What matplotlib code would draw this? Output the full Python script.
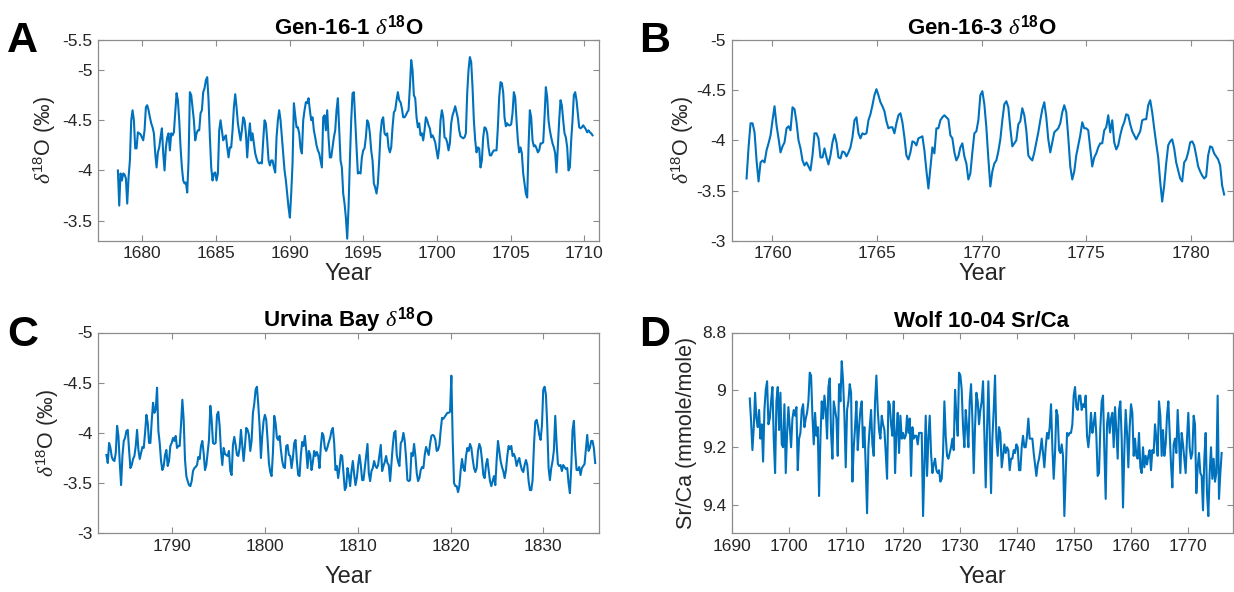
import numpy as np
import matplotlib
matplotlib.use("Agg")
import matplotlib.pyplot as plt

plt.rcParams['font.family'] = ['Liberation Sans', 'DejaVu Sans']
plt.rcParams['mathtext.fontset'] = 'custom'
plt.rcParams['mathtext.rm'] = 'Liberation Sans'
plt.rcParams['mathtext.it'] = 'Liberation Serif:italic'
plt.rcParams['mathtext.bf'] = 'Liberation Sans:bold'

gen161_start, gen161_end = 1678.35, 1710.56
gen161_d18o = [
    -4.0, -3.65, -3.97, -3.9, -3.97, -3.96, -3.92, -3.67, -3.93, -4.1, -4.5, -4.6, -4.5, -4.22, -4.22, -4.38,
    -4.37, -4.36, -4.33, -4.3, -4.4, -4.63, -4.65, -4.6, -4.53, -4.47, -4.43, -4.37, -4.17, -4.03, -4.18, -4.23,
    -4.33, -4.42, -4.17, -4.0, -4.23, -4.33, -4.37, -4.2, -4.37, -4.35, -4.38, -4.57, -4.77, -4.7, -4.5, -4.23,
    -4.03, -3.9, -3.87, -3.88, -3.78, -4.1, -4.78, -4.75, -4.63, -4.5, -4.3, -4.37, -4.4, -4.4, -4.57, -4.6,
    -4.78, -4.82, -4.9, -4.93, -4.7, -4.33, -4.03, -3.9, -3.97, -3.98, -3.9, -3.97, -4.4, -4.5, -4.4, -4.3,
    -4.33, -4.35, -4.23, -4.13, -4.23, -4.23, -4.4, -4.63, -4.76, -4.63, -4.47, -4.38, -4.3, -4.4, -4.53, -4.5,
    -4.37, -4.13, -4.33, -4.47, -4.3, -4.37, -4.27, -4.17, -4.12, -4.08, -4.07, -4.08, -4.07, -4.3, -4.5, -4.47,
    -4.3, -4.1, -4.05, -4.1, -4.1, -4.03, -3.98, -4.33, -4.5, -4.6, -4.5, -4.33, -4.17, -4.0, -3.9, -3.77,
    -3.63, -3.53, -3.77, -4.07, -4.67, -4.55, -4.43, -4.43, -4.37, -4.22, -4.17, -4.5, -4.6, -4.68, -4.67, -4.72,
    -4.6, -4.5, -4.53, -4.4, -4.33, -4.25, -4.2, -4.17, -4.1, -4.03, -4.53, -4.55, -4.4, -4.6, -4.33, -4.13,
    -4.13, -4.23, -4.33, -4.4, -4.6, -4.72, -4.4, -4.1, -4.03, -3.77, -3.67, -3.53, -3.32, -3.63, -4.1, -4.5,
    -4.77, -4.78, -4.5, -4.23, -3.97, -3.98, -3.97, -4.13, -4.2, -4.22, -4.33, -4.5, -4.47, -4.37, -4.2, -4.1,
    -3.87, -3.83, -3.77, -3.87, -4.1, -4.37, -4.5, -4.53, -4.37, -4.35, -4.37, -4.23, -4.18, -4.23, -4.43, -4.58,
    -4.6, -4.7, -4.78, -4.7, -4.68, -4.62, -4.53, -4.53, -4.55, -4.58, -4.6, -4.83, -5.1, -5.0, -4.75, -4.72,
    -4.53, -4.43, -4.47, -4.35, -4.37, -4.3, -4.4, -4.53, -4.5, -4.45, -4.42, -4.33, -4.35, -4.32, -4.28, -4.2,
    -4.12, -4.23, -4.5, -4.6, -4.53, -4.33, -4.32, -4.28, -4.2, -4.27, -4.47, -4.55, -4.59, -4.64, -4.58, -4.52,
    -4.4, -4.34, -4.33, -4.32, -4.33, -4.37, -4.77, -5.0, -5.13, -5.08, -4.83, -4.5, -4.3, -4.18, -4.23, -4.22,
    -4.03, -4.1, -4.33, -4.43, -4.42, -4.37, -4.23, -4.15, -4.15, -4.18, -4.2, -4.2, -4.2, -4.43, -4.73, -4.88,
    -4.87, -4.78, -4.53, -4.44, -4.47, -4.45, -4.45, -4.46, -4.57, -4.78, -4.73, -4.5, -4.3, -4.18, -4.23, -4.17,
    -3.97, -3.87, -3.77, -3.73, -4.23, -4.6, -4.53, -4.3, -4.24, -4.25, -4.22, -4.18, -4.2, -4.27, -4.27, -4.28,
    -4.53, -4.83, -4.73, -4.5, -4.4, -4.33, -4.27, -4.23, -4.17, -3.98, -4.23, -4.5, -4.7, -4.65, -4.5, -4.37,
    -4.33, -4.23, -4.0, -4.03, -4.3, -4.5, -4.75, -4.78, -4.7, -4.57, -4.43, -4.42, -4.43, -4.45, -4.43, -4.41,
    -4.38, -4.4, -4.38, -4.37, -4.35,
]

gen163_start, gen163_end = 1758.76, 1781.6
gen163_d18o = [
    -3.62, -3.93, -4.17, -4.17, -4.08, -3.80, -3.59, -3.78, -3.80, -3.78, -3.90, -3.97, -4.05, -4.20, -4.34, -4.15,
    -4.02, -3.88, -3.94, -3.98, -4.12, -4.14, -4.10, -4.33, -4.31, -4.18, -4.00, -3.92, -3.80, -3.75, -3.78, -3.74,
    -3.70, -3.85, -4.07, -4.07, -4.02, -3.83, -3.83, -3.92, -3.83, -3.76, -3.85, -3.98, -4.06, -3.98, -3.83, -3.82,
    -3.89, -3.88, -3.84, -3.88, -3.93, -4.03, -4.20, -4.23, -4.07, -4.02, -4.07, -4.06, -4.07, -4.20, -4.26, -4.35,
    -4.45, -4.51, -4.45, -4.38, -4.34, -4.29, -4.19, -4.12, -4.13, -4.13, -4.07, -4.17, -4.25, -4.27, -4.18, -4.03,
    -3.85, -3.81, -3.88, -3.99, -3.98, -3.95, -4.02, -4.03, -4.04, -3.90, -3.70, -3.52, -3.72, -3.93, -3.87, -4.12,
    -4.12, -4.20, -4.23, -4.25, -4.23, -4.21, -4.05, -4.02, -3.88, -3.80, -3.84, -3.93, -3.97, -3.84, -3.77, -3.61,
    -3.67, -3.88, -4.07, -4.09, -4.20, -4.45, -4.49, -4.36, -4.13, -3.82, -3.54, -3.69, -3.77, -3.80, -3.89, -4.01,
    -4.20, -4.36, -4.39, -4.33, -4.12, -3.94, -3.97, -4.00, -4.16, -4.19, -4.32, -4.25, -4.10, -3.85, -3.82, -3.80,
    -3.88, -3.98, -4.08, -4.20, -4.31, -4.38, -4.23, -4.01, -3.88, -3.98, -4.08, -4.10, -4.12, -4.17, -4.28, -4.35,
    -4.28, -4.03, -3.74, -3.61, -3.69, -3.85, -3.95, -4.05, -4.18, -4.12, -4.12, -4.10, -3.92, -3.74, -3.83, -3.87,
    -3.93, -3.97, -3.97, -4.10, -4.13, -4.25, -4.08, -4.20, -3.98, -3.91, -3.95, -4.05, -4.13, -4.18, -4.26, -4.25,
    -4.16, -4.09, -4.05, -4.01, -4.05, -4.09, -4.20, -4.21, -4.21, -4.35, -4.40, -4.28, -4.12, -3.97, -3.83, -3.59,
    -3.39, -3.55, -3.77, -3.95, -3.99, -4.01, -3.92, -3.78, -3.70, -3.62, -3.59, -3.78, -3.81, -3.88, -3.98, -3.99,
    -3.95, -3.85, -3.74, -3.69, -3.65, -3.62, -3.64, -3.85, -3.94, -3.93, -3.87, -3.84, -3.81, -3.75, -3.55, -3.46,
]

urvina_start, urvina_end = 1782.91, 1835.59
urvina_d18o = [
    -3.78, -3.70, -3.90, -3.85, -3.76, -3.73, -3.72, -3.80, -4.07, -3.97, -3.70, -3.48, -3.77, -3.92, -3.95, -4.02,
    -4.03, -3.83, -3.65, -3.68, -3.74, -3.77, -3.87, -4.03, -3.83, -3.74, -3.80, -3.86, -3.85, -4.00, -4.18, -4.10,
    -3.90, -3.90, -4.12, -4.30, -4.20, -4.23, -4.45, -4.02, -3.90, -3.72, -3.63, -3.67, -3.78, -3.83, -3.67, -3.72,
    -3.87, -3.90, -3.95, -3.92, -3.97, -3.85, -3.87, -3.87, -4.08, -4.33, -4.13, -3.73, -3.57, -3.52, -3.48, -3.47,
    -3.52, -3.62, -3.65, -3.66, -3.68, -3.76, -3.74, -3.87, -3.92, -3.80, -3.63, -3.68, -3.80, -3.93, -4.27, -4.13,
    -3.90, -3.89, -3.90, -4.18, -4.21, -4.07, -3.82, -3.68, -3.85, -3.79, -3.78, -3.77, -3.82, -3.62, -3.58, -3.88,
    -3.96, -3.88, -3.78, -3.77, -3.85, -4.03, -3.88, -3.72, -3.87, -4.05, -4.03, -3.98, -3.82, -3.92, -4.20, -4.29,
    -4.43, -4.46, -4.28, -4.07, -3.75, -3.97, -4.12, -4.18, -4.13, -3.93, -3.70, -3.61, -3.57, -3.80, -4.17, -4.10,
    -3.95, -3.93, -3.97, -3.83, -3.72, -3.66, -3.65, -3.87, -3.88, -3.78, -3.77, -3.65, -3.75, -3.90, -3.93, -3.72,
    -3.58, -3.57, -3.78, -3.91, -3.87, -3.97, -3.83, -3.65, -3.82, -3.78, -3.63, -3.71, -3.82, -3.77, -3.81, -3.77,
    -3.65, -3.87, -4.00, -3.97, -3.85, -3.82, -3.86, -3.91, -3.95, -4.02, -4.05, -3.90, -3.63, -3.67, -3.55, -3.65,
    -3.78, -3.77, -3.60, -3.43, -3.46, -3.65, -3.58, -3.47, -3.62, -3.72, -3.59, -3.48, -3.55, -3.68, -3.78, -3.68,
    -3.53, -3.53, -3.65, -3.78, -3.89, -3.60, -3.52, -3.62, -3.65, -3.72, -3.67, -3.65, -3.68, -3.78, -3.88, -3.62,
    -3.67, -3.71, -3.77, -3.70, -3.68, -3.52, -3.70, -3.87, -4.00, -4.02, -3.78, -3.71, -3.67, -3.90, -3.92, -4.00,
    -3.92, -3.75, -3.53, -3.52, -3.53, -3.80, -3.77, -3.89, -3.77, -3.60, -3.52, -3.55, -3.63, -3.66, -3.65, -3.78,
    -3.86, -3.82, -3.78, -3.89, -3.97, -3.98, -3.97, -3.93, -3.82, -3.83, -3.88, -4.03, -4.15, -4.14, -4.16, -4.18,
    -4.20, -4.20, -4.21, -4.57, -3.93, -3.50, -3.47, -3.47, -3.41, -3.47, -3.63, -3.74, -3.65, -3.62, -3.77, -3.85,
    -3.82, -3.89, -3.85, -3.74, -3.65, -3.61, -3.65, -3.82, -3.89, -3.85, -3.73, -3.58, -3.55, -3.68, -3.74, -3.63,
    -3.52, -3.47, -3.52, -3.57, -3.48, -3.73, -3.92, -3.82, -3.72, -3.66, -3.62, -3.55, -3.63, -3.77, -3.87, -3.84,
    -3.87, -3.77, -3.79, -3.75, -3.67, -3.72, -3.75, -3.68, -3.63, -3.61, -3.68, -3.73, -3.68, -3.52, -3.43, -3.43,
    -3.53, -3.87, -4.11, -4.13, -4.07, -3.98, -3.93, -4.07, -4.43, -4.46, -4.38, -4.07, -3.65, -3.53, -3.65, -3.72,
    -3.83, -4.17, -3.90, -3.69, -3.67, -3.68, -3.62, -3.68, -3.66, -3.64, -3.65, -3.50, -3.40, -3.65, -4.03, -4.12,
    -3.82, -3.63, -3.63, -3.66, -3.58, -3.65, -3.67, -3.69, -3.83, -3.98, -3.82, -3.85, -3.92, -3.92, -3.85, -3.70,
]

wolf_start, wolf_end = 1693.2, 1775.9
wolf_srca = [
    9.03, 9.11, 9.21, 9.13, 9.01, 9.10, 9.13, 9.07, 9.17, 9.12, 9.25, 9.07, 9.00, 8.97, 9.12, 9.10,
    9.04, 8.99, 9.17, 9.29, 9.04, 8.99, 9.14, 9.01, 9.19, 9.20, 9.05, 9.29, 9.15, 9.06, 9.13, 9.20,
    9.10, 9.07, 9.09, 9.06, 9.28, 9.17, 9.15, 9.07, 9.05, 9.13, 9.10, 9.08, 9.04, 8.94, 8.95, 9.09,
    9.19, 9.08, 9.16, 9.13, 9.37, 9.17, 9.04, 9.10, 9.02, 9.07, 9.17, 8.99, 8.96, 9.15, 9.24, 9.04,
    9.07, 9.10, 9.23, 8.98, 9.04, 8.90, 8.97, 9.09, 9.27, 9.07, 9.04, 8.98, 9.01, 9.32, 9.20, 9.13,
    9.04, 9.21, 9.13, 9.07, 9.04, 9.20, 9.13, 9.27, 9.43, 9.20, 9.13, 9.07, 9.19, 9.23, 9.04, 8.95,
    9.07, 9.14, 9.17, 9.09, 9.12, 9.14, 9.22, 9.31, 9.04, 9.05, 9.12, 9.16, 9.04, 9.29, 9.15, 9.08,
    9.22, 9.09, 9.17, 9.15, 9.17, 9.16, 9.09, 9.15, 9.10, 9.30, 9.13, 9.17, 9.16, 9.16, 9.19, 9.15,
    9.15, 9.15, 9.44, 9.27, 9.09, 9.30, 9.17, 9.09, 9.22, 9.29, 9.26, 9.24, 9.28, 9.29, 9.28, 9.32,
    9.31, 9.22, 9.04, 9.16, 9.23, 9.24, 9.22, 9.20, 9.17, 9.21, 9.00, 9.09, 9.16,
    8.94, 8.95, 9.00, 9.13, 9.20, 9.07, 9.13, 9.20, 9.04, 8.98, 9.10, 9.29, 9.13, 9.01, 9.04, 9.12,
    9.07, 9.04, 8.97, 9.15, 9.34, 9.14, 8.97, 9.15, 9.36, 9.17, 9.07, 8.95, 9.17, 9.23, 9.13, 9.15,
    9.27, 9.23, 9.19, 9.22, 9.20, 9.21, 9.28, 9.24, 9.24, 9.21, 9.22, 9.19, 9.20, 9.28, 9.28, 9.20,
    9.16, 9.20, 9.20, 9.16, 9.10, 9.17, 9.17, 9.17, 9.22, 9.26, 9.30, 9.26, 9.24, 9.21, 9.17, 9.22,
    9.27, 9.20, 9.15, 9.17, 9.13, 9.05, 9.20, 9.31, 9.22, 9.07, 9.09, 9.21, 9.22, 9.19, 9.23, 9.44,
    9.29, 9.15, 9.16, 9.15, 9.15, 9.12, 9.02, 8.99, 9.06, 9.07, 9.02, 9.02, 9.07, 9.05, 9.06, 9.02,
    9.16, 9.20, 9.15, 9.08, 9.15, 9.12, 9.08, 9.16, 9.30, 9.29, 9.13, 9.04, 9.02, 9.21, 9.38, 9.12,
    9.08, 9.15, 9.10, 9.08, 9.20, 9.06, 9.14, 9.24, 9.07, 9.04, 9.17, 9.41, 9.21, 9.07, 9.15, 9.27,
    9.13, 9.05, 9.08, 9.23, 9.17, 9.23, 9.24, 9.15, 9.27, 9.29, 9.20, 9.27, 9.23, 9.26, 9.23, 9.21,
    9.28, 9.21, 9.22, 9.12, 9.17, 9.23, 9.04, 9.09, 9.23, 9.14, 9.23, 9.19, 9.09, 9.04, 9.15, 9.26,
    9.34, 9.19, 9.17, 9.22, 9.07, 9.17, 9.29, 9.15, 9.19, 9.24, 9.29, 9.17, 9.08, 9.20, 9.24, 9.22,
    9.09, 9.12, 9.36, 9.27, 9.22, 9.29, 9.30, 9.42, 9.24, 9.15, 9.36, 9.44, 9.29, 9.20, 9.31, 9.24,
    9.32, 9.29, 9.02, 9.38, 9.29, 9.22,
]

panels = [
    dict(letter="A", title=r"Gen-16-1 $\delta^{\mathbf{18}}$O", start=gen161_start, end=gen161_end,
         values=gen161_d18o, xlim=(1677, 1711), ylim=(-3.3, -5.3),
         xticks=[1680, 1685, 1690, 1695, 1700, 1705, 1710],
         yticks=[-5.3, -5, -4.5, -4, -3.5], yticklabels=["-5.5", "-5", "-4.5", "-4", "-3.5"],
         ylabel=r"$\delta^{18}$O (‰)"),
    dict(letter="B", title=r"Gen-16-3 $\delta^{\mathbf{18}}$O", start=gen163_start, end=gen163_end,
         values=gen163_d18o, xlim=(1758.04, 1782), ylim=(-3, -5),
         xticks=[1760, 1765, 1770, 1775, 1780],
         yticks=[-5, -4.5, -4, -3.5, -3], yticklabels=["-5", "-4.5", "-4", "-3.5", "-3"],
         ylabel=r"$\delta^{18}$O (‰)"),
    dict(letter="C", title=r"Urvina Bay $\delta^{\mathbf{18}}$O", start=urvina_start, end=urvina_end,
         values=urvina_d18o, xlim=(1782, 1836), ylim=(-3, -5),
         xticks=[1790, 1800, 1810, 1820, 1830],
         yticks=[-5, -4.5, -4, -3.5, -3], yticklabels=["-5", "-4.5", "-4", "-3.5", "-3"],
         ylabel=r"$\delta^{18}$O (‰)"),
    dict(letter="D", title="Wolf 10-04 Sr/Ca", start=wolf_start, end=wolf_end,
         values=wolf_srca, xlim=(1690, 1777.8), ylim=(9.5, 8.8),
         xticks=list(range(1690, 1771, 10)),
         yticks=[8.8, 9, 9.2, 9.4], yticklabels=["8.8", "9", "9.2", "9.4"],
         ylabel="Sr/Ca (mmole/mole)"),
]

W, H = 1234, 592
boxes = [(98, 40, 599, 240.7), (731.5, 40, 1232.5, 240.7),
         (98, 332.5, 599, 533.3), (731.5, 332.5, 1232.5, 533.3)]
letter_pos = [(7, 52), (639, 52), (7, 346), (639, 346)]
ylab_x = [-0.106, -0.097, -0.1, -0.089]
xlab_y = [-0.165, -0.165, -0.217, -0.217]

fig = plt.figure(figsize=(W / 100, H / 100), dpi=100)
line_color = "#0072BD"
axis_color = "#8c8c8c"
text_color = "#262626"

for i, p in enumerate(panels):
    x0, y0, x1, y1 = boxes[i]
    ax = fig.add_axes([x0 / W, 1 - y1 / H, (x1 - x0) / W, (y1 - y0) / H])
    t = np.linspace(p["start"], p["end"], len(p["values"]))
    ax.plot(t, p["values"], color=line_color, lw=1.5)
    ax.set_xlim(*p["xlim"])
    ax.set_ylim(*p["ylim"])
    ax.set_xticks(p["xticks"])
    ax.set_yticks(p["yticks"])
    ax.set_yticklabels(p["yticklabels"])
    ax.tick_params(direction="in", top=True, right=True, length=4, width=0.8,
                   color=axis_color, labelcolor=text_color, labelsize=12.5, pad=4)
    for s in ax.spines.values():
        s.set_color(axis_color)
        s.set_linewidth(0.9)
    ax.set_title(p["title"], fontsize=16, fontweight="bold", pad=4)
    ax.set_xlabel("Year", fontsize=17, color=text_color)
    ax.xaxis.set_label_coords(0.5, xlab_y[i])
    ax.xaxis.label.set_va("center")
    ax.set_ylabel(p["ylabel"], fontsize=15.5, color=text_color)
    ax.yaxis.set_label_coords(ylab_x[i], 0.5)
    ax.yaxis.label.set_va("center")
    lx, ly = letter_pos[i]
    fig.text(lx / W, 1 - ly / H, p["letter"], fontsize=31, fontweight="bold",
             ha="left", va="baseline")

fig.savefig("out.png", dpi=100)
